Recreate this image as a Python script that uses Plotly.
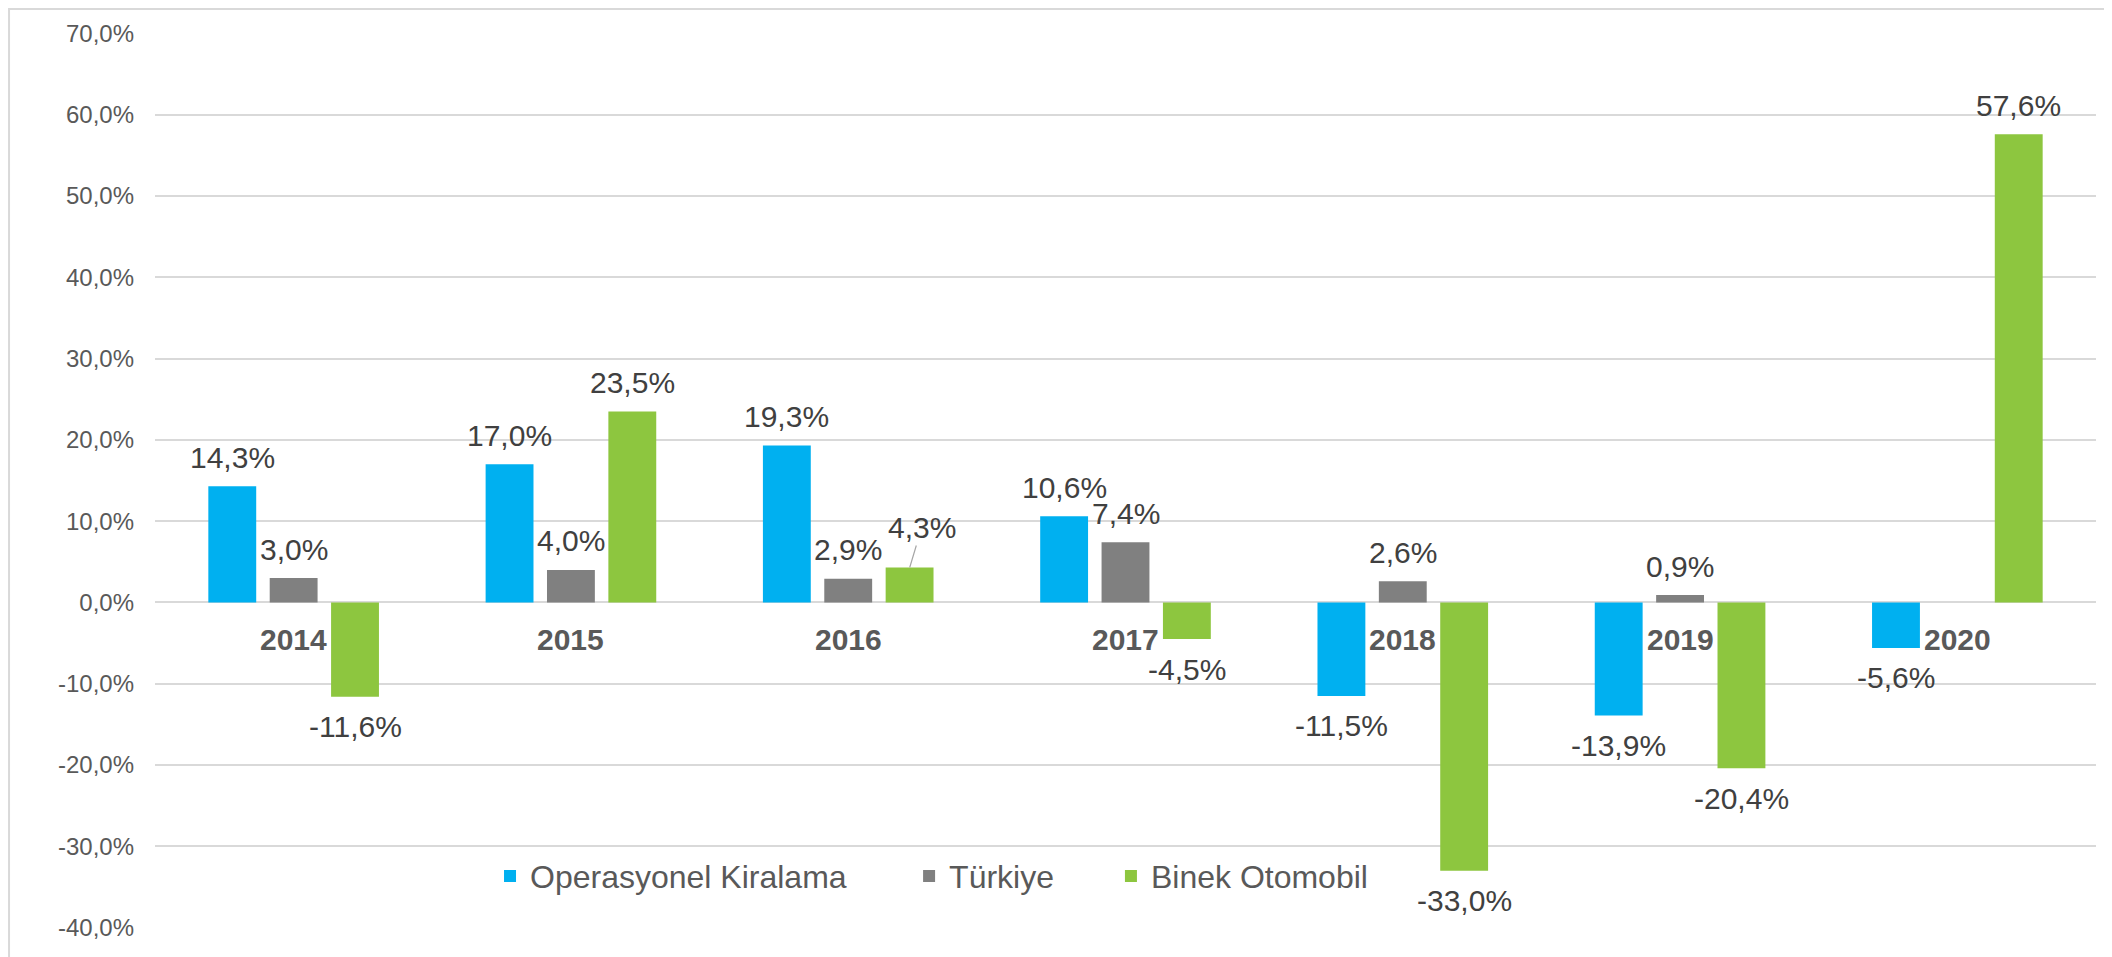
"""
Grouped bar chart: yearly growth, Operasyonel Kiralama vs Türkiye vs Binek Otomobil.
"""
import plotly.graph_objects as go

years = ['2014', '2015', '2016', '2017', '2018', '2019', '2020']
operasyonel = [14.3, 17.0, 19.3, 10.6, -11.5, -13.9, -5.6]
turkiye = [3.0, 4.0, 2.9, 7.4, 2.6, 0.9, None]
binek = [-11.6, 23.5, 4.3, -4.5, -33.0, -20.4, 57.6]
y_ticks = [70, 60, 50, 40, 30, 20, 10, 0, -10, -20, -30, -40]

series_names = ['Operasyonel Kiralama', 'Türkiye', 'Binek Otomobil']
colors = ['#00B0F0', '#808080', '#8DC63F']

FONT = 'Liberation Sans, Arial, sans-serif'
SLOT = 61.5  # px between bar centres inside a group


def fmt(v):
    return f'{v:.1f}%'.replace('.', ',')


fig = go.Figure()
legend_ids = ['legend', 'legend2', 'legend3']
for name, vals, col, lg in zip(series_names, [operasyonel, turkiye, binek], colors, legend_ids):
    fig.add_trace(go.Bar(
        x=years, y=vals, name=name, marker_color=col,
        marker_line_width=0, legend=lg,
        hovertemplate='%{x}<br>' + name + ': %{y:.1f}%<extra></extra>'
    ))

# data labels
for i, vals in enumerate([operasyonel, turkiye, binek]):
    for k, v in enumerate(vals):
        if v is None:
            continue
        if k == 2 and i == 2:
            # 2016 Binek label was pulled away with a leader line
            fig.add_annotation(x=k, y=v, text=fmt(v), xshift=(i - 1) * SLOT,
                               showarrow=True, arrowhead=0, arrowwidth=1.2,
                               arrowcolor='#A6A6A6', ax=12, ay=-40,
                               font=dict(family=FONT, size=30, color='#404040'))
            continue
        fig.add_annotation(x=k, y=v, text=fmt(v), showarrow=False,
                           xshift=(i - 1) * SLOT, yshift=29 if v >= 0 else -30,
                           yanchor='middle',
                           font=dict(family=FONT, size=30, color='#404040'))

# year labels sit on the zero line
for k, yr in enumerate(years):
    fig.add_annotation(x=k, y=0, text='<b>' + yr + '</b>', showarrow=False,
                       yanchor='middle', yshift=-37,
                       font=dict(family=FONT, size=30, color='#595959'))

legend_style = dict(orientation='h', yanchor='middle', y=0.058, xanchor='left',
                    bgcolor='rgba(0,0,0,0)',
                    font=dict(family=FONT, size=32, color='#595959'))

fig.update_layout(
    width=2104, height=949,
    margin=dict(l=147, r=16, t=25, b=29),
    paper_bgcolor='white', plot_bgcolor='white',
    barmode='group', bargap=0.336, bargroupgap=0.22,
    legend=dict(x=0.1726, **legend_style),
    legend2=dict(x=0.3885, **legend_style),
    legend3=dict(x=0.4925, **legend_style),
    xaxis=dict(range=[-0.5, 6.5], showticklabels=False, showgrid=False,
               zeroline=False, showline=False, ticks=''),
    yaxis=dict(range=[-40.05, 70.05], tickvals=y_ticks,
               ticktext=[fmt(t) for t in y_ticks],
               showgrid=True, gridcolor='#D9D9D9', gridwidth=1.5,
               zeroline=True, zerolinecolor='#D9D9D9', zerolinewidth=1.5,
               showline=False, ticks='', ticklabelstandoff=20,
               tickfont=dict(family=FONT, size=24, color='#595959')),
    shapes=[dict(type='rect', xref='paper', yref='paper',
                 x0=-0.0752, x1=1.0072, y0=-0.2, y1=1.0268,
                 line=dict(color='#D9D9D9', width=2), layer='below')],
    showlegend=True,
)

fig.write_html('out.html')
